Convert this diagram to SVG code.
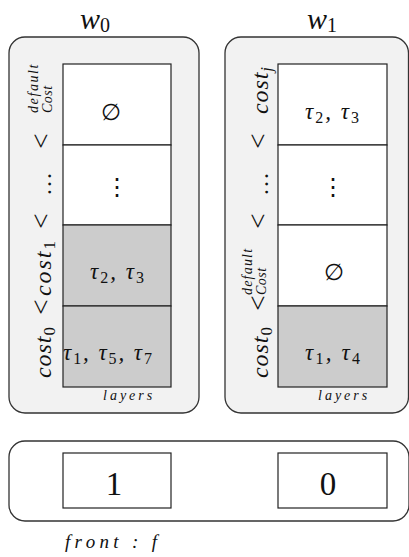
<svg xmlns="http://www.w3.org/2000/svg" width="409" height="557" viewBox="0 0 409 557">
<style>
.cont{fill:#f2f2f2;stroke:#333;stroke-width:1.3}
.cell{fill:#fff;stroke:#222;stroke-width:1.2}
.gray{fill:#cccccc;stroke:#222;stroke-width:1.2}
.box{fill:#fff;stroke:#222;stroke-width:1.2}
.m{font-family:"Liberation Serif","DejaVu Serif",serif;font-style:italic;fill:#111}
.r{font-family:"Liberation Serif","DejaVu Serif",serif;font-style:normal;fill:#111}
.title{font-size:30px}
.lbl{font-size:24px}
.lt{font-size:27px}
.sm{font-size:14px}
.cellt{font-size:23px}
.sub{font-size:16px}
.lay{font-size:14px;letter-spacing:3px}
</style>
<rect width="409" height="557" fill="#fff"/>
<g id="connectors"/>
<g id="w0">
<text class="m title" x="80" y="28.5">w<tspan class="r" font-size="20" dy="3">0</tspan></text>
<rect class="cont" x="9" y="37" width="190" height="376" rx="16"/>
<rect class="cell" x="63" y="64" width="108" height="81"/>
<rect class="cell" x="63" y="145" width="108" height="80"/>
<rect class="gray" x="63" y="225" width="108" height="81"/>
<rect class="gray" x="63" y="306" width="108" height="81"/>
<text class="r" x="111" y="120" font-size="23" text-anchor="middle">∅</text>
<text class="r" x="117" y="195" font-size="24" text-anchor="middle">⋮</text>
<text class="m cellt" x="90" y="279" textLength="54">τ<tspan class="r sub" dy="4">2</tspan><tspan dy="-4">, τ</tspan><tspan class="r sub" dy="4">3</tspan></text>
<text class="m cellt" x="63" y="360" textLength="89">τ<tspan class="r sub" dy="4">1</tspan><tspan dy="-4">, τ</tspan><tspan class="r sub" dy="4">5</tspan><tspan dy="-4">, τ</tspan><tspan class="r sub" dy="4">7</tspan></text>
<text class="m lay" x="103" y="400">layers</text>
<text class="m lbl" x="51" y="378" textLength="51" transform="rotate(-90 51 378)">cost<tspan class="r" font-size="17" dy="4">0</tspan></text>
<text class="r lt" x="50" y="307" text-anchor="middle" transform="rotate(-90 50 307)">&lt;</text>
<text class="m lbl" x="51" y="296" textLength="55" transform="rotate(-90 51 296)">cost<tspan class="r" font-size="17" dy="4">1</tspan></text>
<text class="r lt" x="50" y="221" text-anchor="middle" transform="rotate(-90 50 221)">&lt;</text>
<text class="r lbl" x="51" y="184" text-anchor="middle" textLength="27" transform="rotate(-90 51 184)">…</text>
<text class="r lt" x="50" y="141" text-anchor="middle" transform="rotate(-90 50 141)">&lt;</text>
<text class="m sm" x="52" y="113" letter-spacing="0.5" transform="rotate(-90 52 113)">Cost</text>
<text class="m sm" x="38" y="113" letter-spacing="1.6" transform="rotate(-90 38 113)">default</text>
</g>
<g id="w1">
<text class="m title" x="307" y="28.5">w<tspan class="r" font-size="20" dy="3">1</tspan></text>
<rect class="cont" x="225" y="37" width="183.5" height="376" rx="16"/>
<rect class="cell" x="278" y="64" width="109" height="81"/>
<rect class="cell" x="278" y="145" width="109" height="80"/>
<rect class="cell" x="278" y="225" width="109" height="81"/>
<rect class="gray" x="278" y="306" width="109" height="81"/>
<text class="m cellt" x="305" y="119" textLength="54">τ<tspan class="r sub" dy="4">2</tspan><tspan dy="-4">, τ</tspan><tspan class="r sub" dy="4">3</tspan></text>
<text class="r" x="333" y="195" font-size="24" text-anchor="middle">⋮</text>
<text class="r" x="334" y="280" font-size="23" text-anchor="middle">∅</text>
<text class="m cellt" x="305" y="360" textLength="55">τ<tspan class="r sub" dy="4">1</tspan><tspan dy="-4">, τ</tspan><tspan class="r sub" dy="4">4</tspan></text>
<text class="m lay" x="318" y="400">layers</text>
<text class="m lbl" x="268" y="378" textLength="51" transform="rotate(-90 268 378)">cost<tspan class="r" font-size="17" dy="4">0</tspan></text>
<text class="r lt" x="267" y="303" text-anchor="middle" transform="rotate(-90 267 303)">&lt;</text>
<text class="m sm" x="266" y="295" letter-spacing="0.5" transform="rotate(-90 266 295)">Cost</text>
<text class="m sm" x="252" y="295" letter-spacing="1.2" transform="rotate(-90 252 295)">default</text>
<text class="r lt" x="267" y="221" text-anchor="middle" transform="rotate(-90 267 221)">&lt;</text>
<text class="r lbl" x="268" y="184" text-anchor="middle" textLength="27" transform="rotate(-90 268 184)">…</text>
<text class="r lt" x="267" y="141" text-anchor="middle" transform="rotate(-90 267 141)">&lt;</text>
<text class="m lbl" x="268" y="114" textLength="47" transform="rotate(-90 268 114)">cost<tspan font-size="17" dy="4">j</tspan></text>
</g>
<g id="front">
<rect x="9" y="441" width="400" height="80" rx="16" fill="#fff" stroke="#333" stroke-width="1.3"/>
<rect class="box" x="63" y="453" width="108" height="55"/>
<rect class="box" x="278" y="453" width="109" height="55"/>
<text class="r" x="114" y="495" font-size="33" text-anchor="middle">1</text>
<text class="r" x="328" y="495" font-size="33" text-anchor="middle">0</text>
<text class="m" x="65" y="548" font-size="19" textLength="92">front : f</text>
</g>
</svg>
